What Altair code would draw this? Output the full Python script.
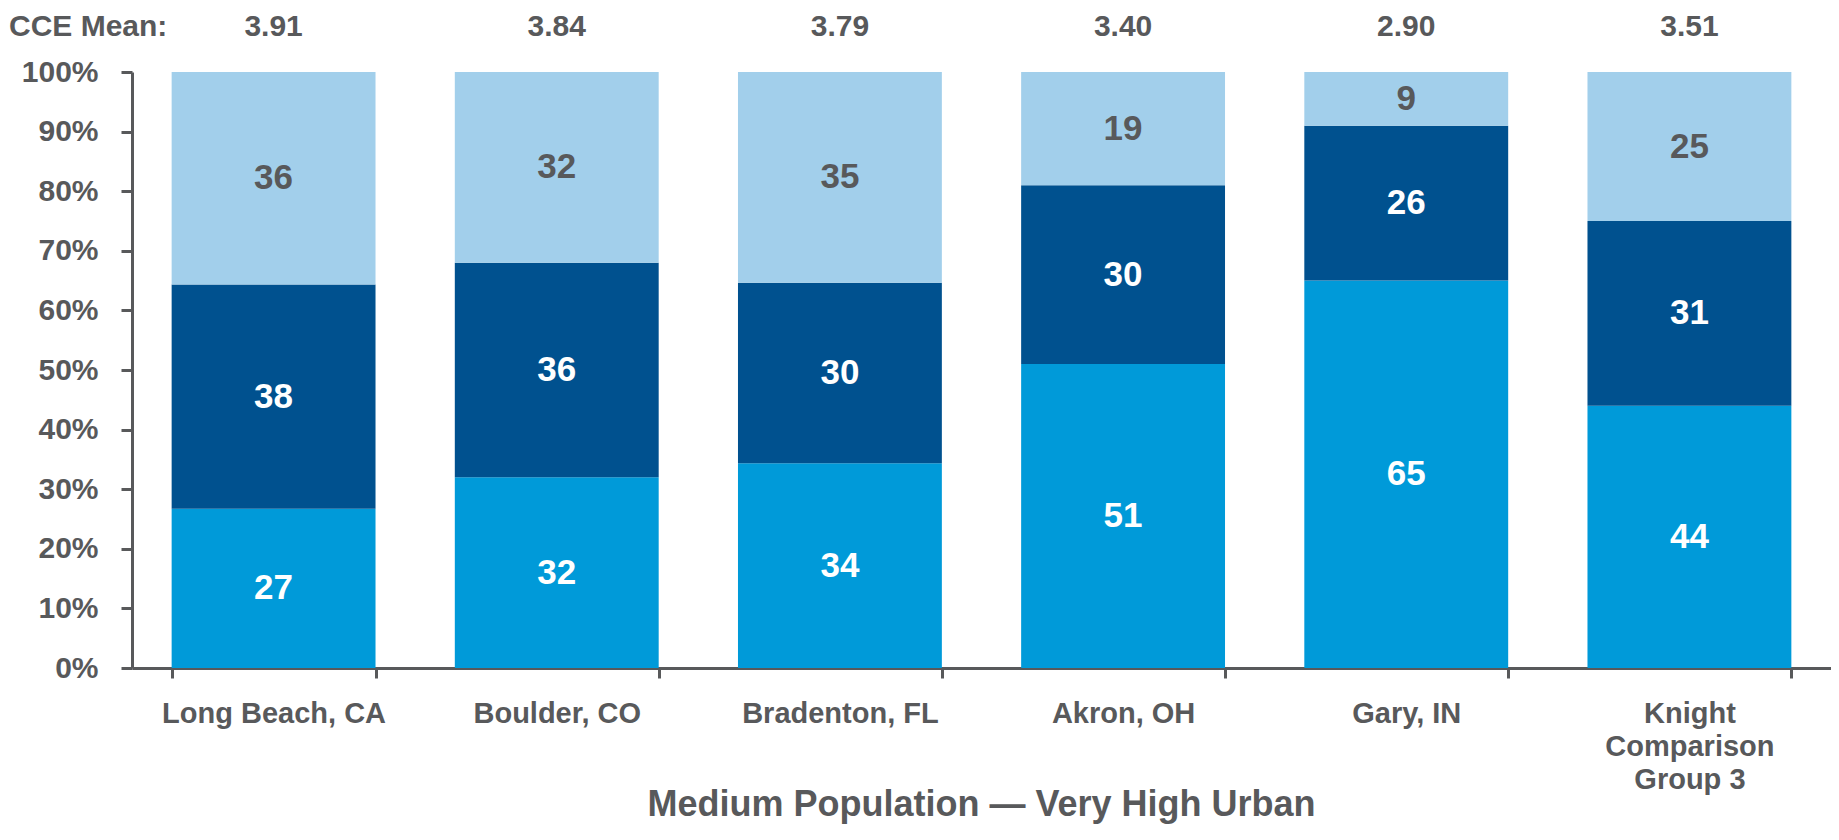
import altair as alt
import pandas as pd

cities = ["Long Beach, CA", "Boulder, CO", "Bradenton, FL", "Akron, OH", "Gary, IN", "Knight Comparison Group 3"]
bottom_vals = [27, 32, 34, 51, 65, 44]
middle_vals = [38, 36, 30, 30, 26, 31]
top_vals = [36, 32, 35, 19, 9, 25]
cce_means = ["3.91", "3.84", "3.79", "3.40", "2.90", "3.51"]
segments = ["bottom", "middle", "top"]
seg_colors = ["#009ad9", "#00518f", "#a2cfeb"]
text_colors = ["#ffffff", "#ffffff", "#58595b"]

rows = []
for i, c in enumerate(cities):
    for k, (s, v) in enumerate(zip(segments, [bottom_vals[i], middle_vals[i], top_vals[i]])):
        rows.append({"city": c, "seg": s, "order": k, "value": v})
df = pd.DataFrame(rows)
mean_df = pd.DataFrame({"city": cities, "mean": cce_means})

W, H = 1699, 596
GRAY = "#58595b"
FONT = "Liberation Sans"

xscale = alt.Scale(domain=cities, paddingInner=0.28, paddingOuter=0.14)
x_enc = alt.X(
    "city:N",
    scale=xscale,
    sort=cities,
    title=None,
    axis=alt.Axis(
        labelAngle=0,
        labelFont=FONT,
        labelFontWeight="bold",
        labelFontSize=29,
        labelColor=GRAY,
        labelPadding=21,
        labelLineHeight=33,
        labelBaseline="top",
        labelLimit=0,
        labelExpr="datum.label == 'Knight Comparison Group 3' ? ['Knight', 'Comparison', 'Group 3'] : datum.label",
        domainColor=GRAY,
        domainWidth=3,
        tickColor=GRAY,
        tickWidth=3,
        tickSize=10,
        tickBand="extent",
        grid=False,
    ),
)

bars = alt.Chart(df).mark_bar().encode(
    x=x_enc,
    y=alt.Y(
        "value:Q",
        stack="normalize",
        scale=alt.Scale(domain=[0, 1]),
        title=None,
        axis=alt.Axis(
            format=".0%",
            values=[i / 10 for i in range(11)],
            labelFont=FONT,
            labelFontWeight="bold",
            labelFontSize=30,
            labelColor=GRAY,
            labelPadding=23,
            domainColor=GRAY,
            domainWidth=3,
            tickColor=GRAY,
            tickWidth=3,
            tickSize=11,
            grid=False,
        ),
    ),
    color=alt.Color("seg:N", scale=alt.Scale(domain=segments, range=seg_colors), legend=None),
    order=alt.Order("order:Q"),
)

labels = alt.Chart(df).transform_stack(
    stack="value", groupby=["city"], sort=[alt.SortField("order")], as_=["y0", "y1"], offset="normalize"
).transform_calculate(
    mid="(datum.y0 + datum.y1) / 2"
).mark_text(font=FONT, fontWeight="bold", fontSize=35, baseline="middle").encode(
    x=alt.X("city:N", scale=xscale, sort=cities),
    y=alt.Y("mid:Q", scale=alt.Scale(domain=[0, 1])),
    text=alt.Text("value:Q"),
    color=alt.Color("seg:N", scale=alt.Scale(domain=segments, range=text_colors), legend=None),
)

means = alt.Chart(mean_df).mark_text(
    font=FONT, fontWeight="bold", fontSize=30, color=GRAY, baseline="middle"
).encode(
    x=alt.X("city:N", scale=xscale, sort=cities),
    y=alt.value(-45),
    text="mean:N",
)

cce_label = alt.Chart(pd.DataFrame({"t": ["CCE Mean:"]})).mark_text(
    font=FONT, fontWeight="bold", fontSize=30, color=GRAY, baseline="middle", align="left"
).encode(x=alt.value(-123), y=alt.value(-45), text="t:N")

title = alt.Chart(pd.DataFrame({"t": ["Medium Population \u2014 Very High Urban"]})).mark_text(
    font=FONT, fontWeight="bold", fontSize=36, color=GRAY, baseline="middle", align="center"
).encode(x=alt.value(W / 2), y=alt.value(733), text="t:N")

chart = alt.layer(bars, labels, means, cce_label, title).resolve_scale(color="independent").properties(
    width=W,
    height=H,
    autosize=alt.AutoSizeParams(type="none"),
    padding={"left": 124, "top": 64, "right": 0, "bottom": 160},
).configure_view(stroke=None)

chart.save("out.html", embed_options={"renderer": "svg", "actions": False})
